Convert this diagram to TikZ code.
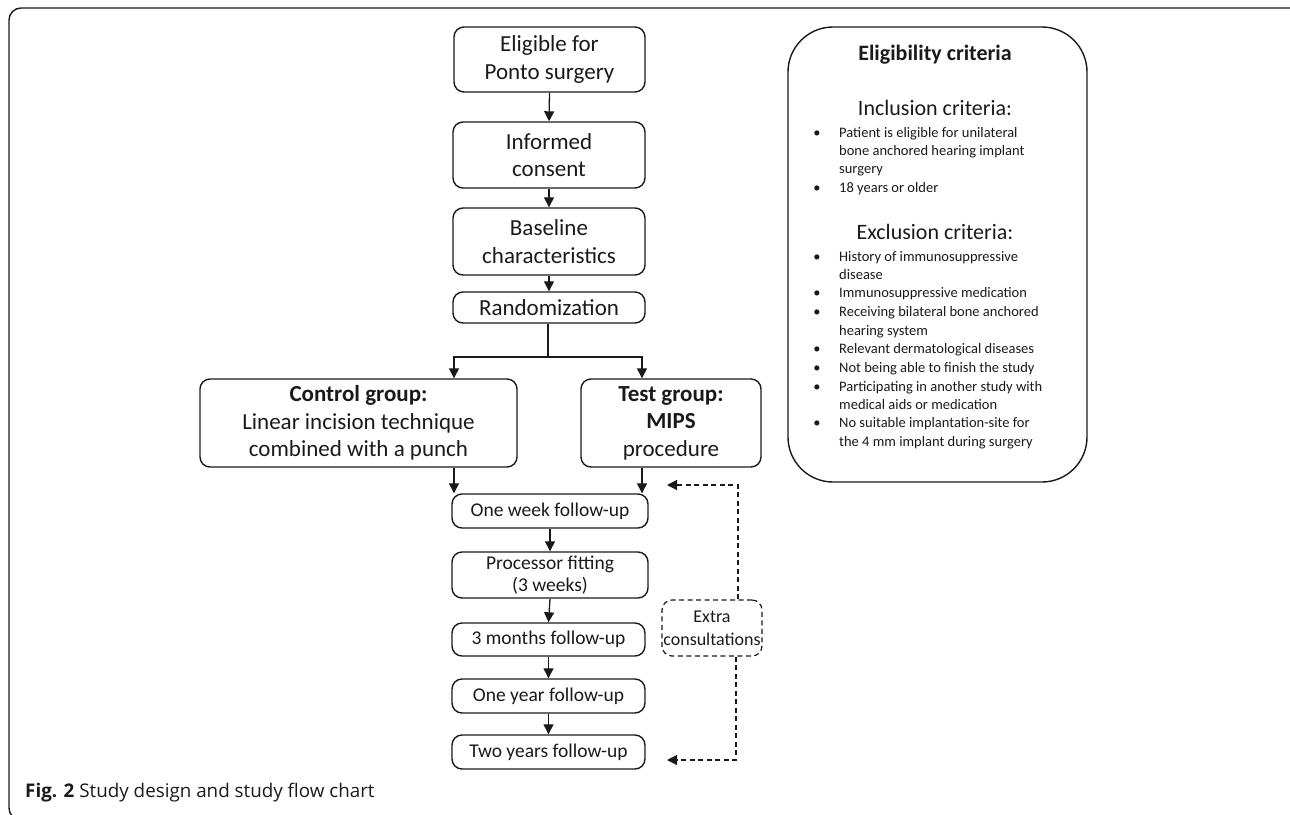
\documentclass[tikz,border=0pt]{standalone}
\usepackage{fontspec}
\setmainfont{Carlito}
\newfontfamily\capfont{Open Sans}
\usetikzlibrary{arrows.meta}
\definecolor{ink}{HTML}{1A1A1A}
\tikzset{
  box/.style={draw=ink, line width=1.4pt, rounded corners=10pt, align=center, inner sep=0pt, text=ink, font=\fontsize{23}{27.5}\selectfont},
  sbox/.style={box, font=\fontsize{19.5}{22}\selectfont},
  dbox/.style={box, dashed, dash pattern=on 5pt off 3.5pt, line width=1.2pt, font=\fontsize{18}{23}\selectfont},
  arr/.style={draw=ink, line width=1.3pt, -{Triangle[length=10pt,width=10pt]}},
  darr/.style={arr, dash pattern=on 5pt off 3.5pt, line width=1.2pt},
  ln/.style={draw=ink, line width=1.3pt},
  item/.style={anchor=base west, inner sep=0pt, text=ink, font=\fontsize{14.5}{16}\selectfont},
  bul/.style={anchor=base, inner sep=0pt, text=ink, font=\fontsize{14.5}{16}\selectfont},
  head/.style={anchor=base, inner sep=0pt, text=ink, font=\fontsize{22}{24}\selectfont}
}
\begin{document}
\begin{tikzpicture}[x=1pt,y=-1pt]
\useasboundingbox (0,0) rectangle (1290,814);
\draw[ink, line width=1.4pt, rounded corners=12pt] (1302,840) -- (1302,8) -- (9,8) -- (9,820) -- (60,820);
% main flow
\node[box, minimum width=191pt, minimum height=65pt] (e1) at (549.5,59.5) {Eligible for\\Ponto surgery};
\node[box, minimum width=192pt, minimum height=66pt] (e2) at (549,155) {Informed\\consent};
\node[box, minimum width=192pt, minimum height=67pt] (e3) at (549,241.5) {Baseline\\characteristics};
\node[box, minimum width=192pt, minimum height=31pt] (rnd) at (549,307.5) {Randomization};
\node[box, minimum width=317pt, minimum height=88pt] (ctrl) at (358.5,423) {\textbf{Control group:}\\Linear incision technique\\combined with a punch};
\node[box, minimum width=180pt, minimum height=88pt] (test) at (671,423) {\textbf{Test group:}\\\textbf{MIPS}\\procedure};
\node[sbox, minimum width=196pt, minimum height=34pt] (w1) at (550,511) {One week follow-up};
\node[sbox, minimum width=196pt, minimum height=46pt] (pf) at (550,575) {Processor fitting\\(3 weeks)};
\node[sbox, minimum width=193pt, minimum height=33pt] (m3) at (548.5,639.5) {3 months follow-up};
\node[sbox, minimum width=193pt, minimum height=34pt] (y1) at (548.5,696) {One year follow-up};
\node[sbox, minimum width=193pt, minimum height=34pt] (y2) at (548.5,752) {Two years follow-up};
\node[dbox, minimum width=100pt, minimum height=56pt] (ex) at (712,628) {Extra\\consultations};
% connectors
\draw[arr] (e1.south) -- (e2.north);
\draw[arr] (e2.south) -- (e3.north);
\draw[arr] (e3.south) -- (rnd.north);
\coordinate (split) at (548,357);
\coordinate (xl) at (454,0);
\coordinate (xr) at (642,0);
\draw[ln] (rnd.south -| split) -- (split);
\draw[arr] (split) -| (ctrl.north -| xl);
\draw[arr] (split) -| (test.north -| xr);
\draw[arr] (ctrl.south -| xl) -- (w1.north -| xl);
\draw[arr] (test.south -| xr) -- (w1.north -| xr);
\draw[arr] (w1.south) -- (pf.north);
\draw[arr] (pf.south) -- (m3.north);
\draw[arr] (m3.south) -- (y1.north);
\draw[arr] (y1.south) -- (y2.north);
\coordinate (d1) at (667,485);
\coordinate (d2) at (667,760);
\coordinate (dxa) at (738,0);
\coordinate (dxb) at (736,0);
\draw[darr] (ex.north -| dxa) |- (d1);
\draw[darr] (ex.south -| dxb) |- (d2);
% criteria box
\node[draw=ink, line width=1.4pt, rounded corners=45pt, minimum width=299pt, minimum height=455pt, inner sep=0pt] (crit) at (937.5,254.5) {};
\node[anchor=base, inner sep=0pt, text=ink, font=\fontsize{22}{24}\selectfont\bfseries] (ct) at (935,60) {Eligibility criteria};
\node[head] (inc) at (935,115) {Inclusion criteria:};
\node[head] (exc) at (935,239) {Exclusion criteria:};
\foreach \y in {137,192,261,297,316,353,372,391,427} \node[bul] at (817,\y) {•};
\node[item] at (839,137) {Patient is eligible for unilateral};
\node[item] at (839,155) {bone anchored hearing implant};
\node[item] at (839,173) {surgery};
\node[item] at (839,192) {18 years or older};
\node[item] at (839,261) {History of immunosuppressive};
\node[item] at (839,279) {disease};
\node[item] at (839,297) {Immunosuppressive medication};
\node[item] at (839,316) {Receiving bilateral bone anchored};
\node[item] at (839,335) {hearing system};
\node[item] at (839,353) {Relevant dermatological diseases};
\node[item] at (839,372) {Not being able to finish the study};
\node[item] at (839,391) {Participating in another study with};
\node[item] at (839,409) {medical aids or medication};
\node[item] at (839,427) {No suitable implantation-site for};
\node[item] at (839,446) {the 4 mm implant during surgery};
% caption
\node[anchor=base west, inner sep=0pt, text=ink, font=\capfont\fontsize{18.8}{20}\selectfont] (cap) at (25,797) {\textbf{Fig. 2} Study design and study flow chart};
\end{tikzpicture}
\end{document}
